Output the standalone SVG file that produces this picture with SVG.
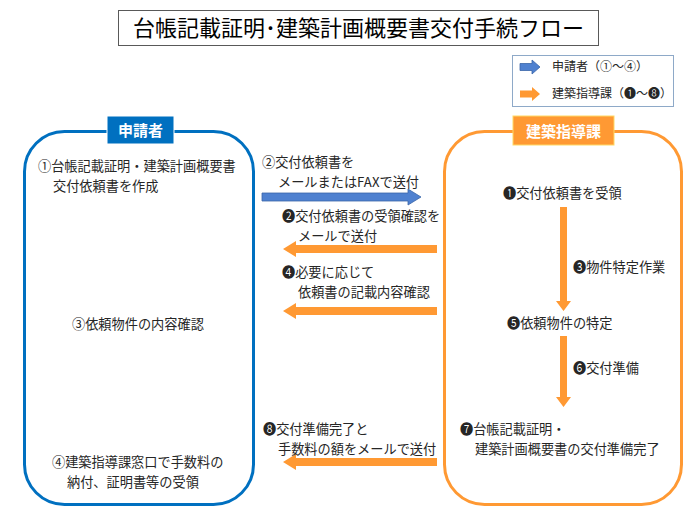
<svg xmlns="http://www.w3.org/2000/svg" width="690" height="518" viewBox="0 0 690 518">
<style>
text{font-family:"Noto Sans CJK JP","DejaVu Sans",sans-serif;fill:#262626;font-size:13.2px}
.t{font-size:22px;fill:#000}
.lg{font-size:12px}
.hd{font-size:15px;font-weight:bold;fill:#fff}
.blue{fill:#4F81D0;stroke:#3A66A8;stroke-width:0.8}
.org{fill:#FF9933}
</style>
<rect x="0" y="0" width="690" height="518" fill="#fff"/>
<g id="title">
<rect x="118.5" y="10.5" width="480" height="35" fill="#fff" stroke="#595959" stroke-width="1"/>
<text class="t" x="358.5" y="36" text-anchor="middle">台帳記載証明･建築計画概要書交付手続フロー</text>
</g>
<g id="legend">
<rect x="512.5" y="55.5" width="161" height="51" fill="#fff" stroke="#8EA9C8" stroke-width="1"/>
<path class="blue" d="M520,63.5 H532 V60 L540,67 L532,74 V70.5 H520 Z"/>
<text class="lg" x="552" y="71">申請者（①～④）</text>
<path class="org" d="M520,90.5 H532 V87 L540,94 L532,101 V97.5 H520 Z"/>
<text class="lg" x="552" y="98">建築指導課（❶～❽）</text>
</g>
<g id="applicant">
<rect x="24.5" y="131.5" width="229" height="373" rx="40" fill="none" stroke="#0070C0" stroke-width="3"/>
<rect x="107" y="116" width="67" height="28" fill="#0070C0" stroke="#fff" stroke-width="1"/>
<text class="hd" x="140.5" y="136" text-anchor="middle">申請者</text>
<text x="38" y="171">①台帳記載証明・建築計画概要書</text>
<text x="53" y="190.5">交付依頼書を作成</text>
<text x="72" y="329">③依頼物件の内容確認</text>
<text x="52" y="467">④建築指導課窓口で手数料の</text>
<text x="67" y="486.5">納付、証明書等の受領</text>
</g>
<g id="office">
<rect x="444.5" y="131.5" width="237" height="373" rx="40" fill="none" stroke="#FF9933" stroke-width="3"/>
<rect x="513" y="116" width="101" height="29" fill="#FF9933" stroke="#FFD966" stroke-width="1"/>
<text class="hd" x="563.5" y="137" text-anchor="middle">建築指導課</text>
<text x="503" y="198">❶交付依頼書を受領</text>
<text x="573" y="272">❸物件特定作業</text>
<text x="507" y="328">❺依頼物件の特定</text>
<text x="573" y="373">❻交付準備</text>
<text x="460" y="434">❼台帳記載証明・</text>
<text x="475" y="453.5">建築計画概要書の交付準備完了</text>
</g>
<g id="connectors">
<path class="blue" d="M262,193 H408 V189 L421,197 L408,205 V201 H262 Z"/>
<text x="262" y="167">②交付依頼書を</text>
<text x="278" y="186.5">メールまたはFAXで送付</text>
<path class="org" d="M437,245 H296 V241 L283,249 L296,257 V253 H437 Z"/>
<text x="282" y="221">❷交付依頼書の受領確認を</text>
<text x="298" y="240.5">メールで送付</text>
<path class="org" d="M437,307 H296 V303 L283,311 L296,319 V315 H437 Z"/>
<text x="282" y="277">❹必要に応じて</text>
<text x="298" y="296.5">依頼書の記載内容確認</text>
<path class="org" d="M437,458 H296 V454 L283,462 L296,470 V466 H437 Z"/>
<text x="263" y="434">❽交付準備完了と</text>
<text x="278" y="453.5">手数料の額をメールで送付</text>
<path class="org" d="M560,207 H567 V301 H571 L563.5,311 L556,301 H560 Z"/>
<path class="org" d="M560,336 H567 V397 H571 L563.5,407 L556,397 H560 Z"/>
</g>
</svg>
